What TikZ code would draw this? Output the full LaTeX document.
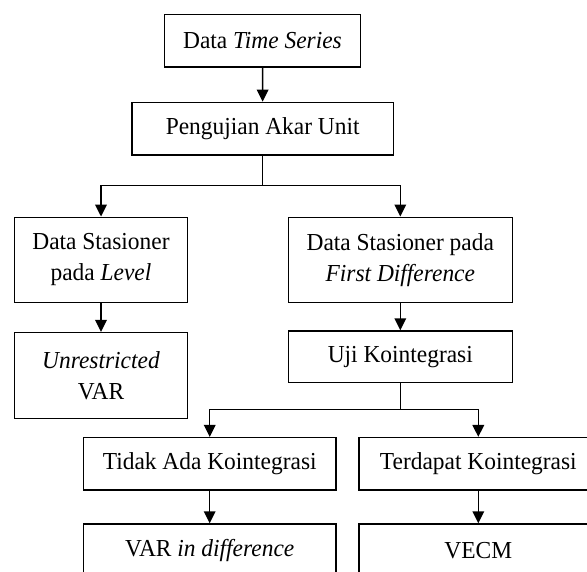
\documentclass[tikz,border=0pt]{standalone}
\usepackage{fontspec}
\setmainfont[FakeStretch=0.96]{Liberation Serif}
\usetikzlibrary{arrows, arrows.meta}
\usetikzlibrary{calc}

\begin{document}
\begin{tikzpicture}[x=0.5pt, y=-0.5pt,
    box/.style={draw, line width=0.75pt, inner sep=0pt, align=center,
      font=\fontsize{12.2}{15.5}\selectfont},
    link/.style={line width=0.75pt, -{Triangle[length=6pt, width=5.8pt]}}]
    \useasboundingbox (0,0) rectangle (587,571);
    \clip (0,0) rectangle (587,571);

    \node[box, minimum width=98.2pt, minimum height=26.35pt] (ts) at (262.5,40.7) {Data \textit{Time Series}};
    \node[box, minimum width=130.65pt, minimum height=26.35pt] (akar) at (262.7,128.7) {Pengujian Akar Unit};
    \node[box, minimum width=86.7pt, minimum height=42.5pt] (level) at (101,259.8) {Data Stasioner\\pada \textit{Level}};
    \node[box, minimum width=112pt, minimum height=42.5pt] (first) at (400.3,259.8) {Data Stasioner pada\\\textit{First Difference}};
    \node[box, minimum width=86.7pt, minimum height=42.8pt] (unres) at (101,375.5) {\textit{Unrestricted}\\VAR};
    \node[box, minimum width=112pt, minimum height=25.65pt] (uji) at (400.3,356.7) {Uji Kointegrasi};
    \node[box, minimum width=126.35pt, minimum height=26.15pt] (tidak) at (209.7,463.8) {Tidak Ada Kointegrasi};
    \node[box, minimum width=119.3pt, minimum height=26.15pt] (terdapat) at (478.3,463.8) {Terdapat Kointegrasi};
    \node[box, minimum width=126.35pt, minimum height=26.15pt] (vardiff) at (209.7,550.2) {VAR \textit{in difference}};
    \node[box, minimum width=119.3pt, minimum height=26.15pt] (vecm) at (478.3,550.2) {VECM};

    \coordinate (split1) at (262.7,185.7);
    \coordinate (split2) at (400.3,409.3);

    \draw[link] (ts) -- (akar);
    \draw[line width=0.75pt] (akar) -- (split1);
    \draw[link] (split1) -| (level);
    \draw[link] (split1) -| (first);
    \draw[link] (level) -- (unres);
    \draw[link] (first) -- (uji);
    \draw[line width=0.75pt] (uji) -- (split2);
    \draw[link] (split2) -| (tidak);
    \draw[link] (split2) -| (terdapat);
    \draw[link] (tidak) -- (vardiff);
    \draw[link] (terdapat) -- (vecm);
  \end{tikzpicture}
\end{document}
